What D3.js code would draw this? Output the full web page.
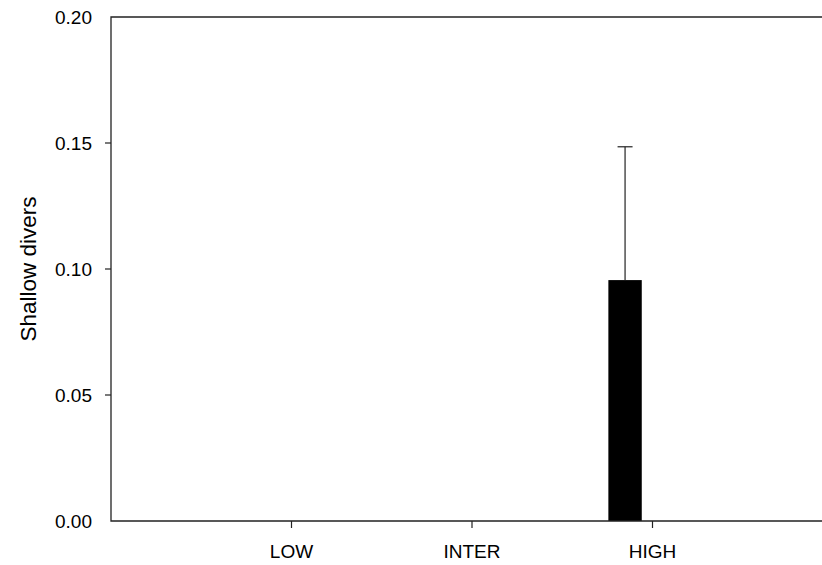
<!DOCTYPE html>
<html>
<head>
<meta charset="utf-8">
<script src="https://cdn.jsdelivr.net/npm/d3@7"></script>
<style>
  html, body { margin: 0; padding: 0; background: #fff; }
  svg { display: block; }
  text { font-family: "Liberation Sans", Arial, sans-serif; fill: #000; }
</style>
</head>
<body>
<svg id="chart" width="822" height="565"></svg>
<script>
// Shallow divers by habitat level
const categories = ["LOW", "INTER", "HIGH"];
const values = [0, 0, 0.0956];
const errors = [0, 0, 0.0529];
const yTicks = [0.05, 0.10, 0.15];
const yLabels = [0.00, 0.05, 0.10, 0.15, 0.20];

const svg = d3.select("#chart");
const plotLeft = 111, plotTop = 17, plotBottom = 521, plotRight = 833;

// categories sit at positions 1..3 on a 0..4 axis
const x = d3.scaleLinear().domain([0, categories.length + 1]).range([plotLeft, plotRight]);
const y = d3.scaleLinear().domain([0, 0.20]).range([plotBottom, plotTop]);

const barOffset = -0.152, barWidth = 0.185;
const stroke = "#222";

// bars
svg.append("g").selectAll("rect")
  .data(values)
  .join("rect")
  .attr("x", (d, i) => x(i + 1 + barOffset - barWidth / 2))
  .attr("width", x(barWidth) - x(0))
  .attr("y", d => y(d))
  .attr("height", d => y(0) - y(d))
  .attr("fill", "#000");

// upper error bars
const eb = svg.append("g").attr("stroke", stroke).attr("stroke-width", 1.2);
values.forEach((v, i) => {
  if (errors[i] <= 0) return;
  const cx = x(i + 1 + barOffset);
  eb.append("line").attr("x1", cx).attr("x2", cx).attr("y1", y(v)).attr("y2", y(v + errors[i]));
  eb.append("line").attr("x1", cx - 7.5).attr("x2", cx + 7.5).attr("y1", y(v + errors[i])).attr("y2", y(v + errors[i]));
});

// frame
const frame = svg.append("g").attr("stroke", stroke).attr("stroke-width", 1.3).attr("fill", "none");
frame.append("path").attr("d", `M${x(4)},${y(0.2)}H${plotLeft}V${plotBottom}H${x(4)}`);

// y axis ticks and labels
svg.append("g").attr("stroke", stroke).attr("stroke-width", 1.2)
  .selectAll("line").data(yTicks).join("line")
  .attr("x1", plotLeft - 6).attr("x2", plotLeft).attr("y1", d => y(d)).attr("y2", d => y(d));
svg.append("g").selectAll("text").data(yLabels).join("text")
  .attr("x", 92).attr("y", d => y(d)).attr("dy", "0.36em")
  .attr("text-anchor", "end").attr("font-size", 19)
  .text(d3.format(".2f"));

// x axis ticks and labels
svg.append("g").attr("stroke", stroke).attr("stroke-width", 1.2)
  .selectAll("line").data(categories).join("line")
  .attr("x1", (d, i) => x(i + 1)).attr("x2", (d, i) => x(i + 1))
  .attr("y1", plotBottom).attr("y2", plotBottom + 7);
svg.append("g").selectAll("text").data(categories).join("text")
  .attr("x", (d, i) => x(i + 1)).attr("y", 558)
  .attr("text-anchor", "middle").attr("font-size", 19)
  .text(d => d);

// y axis title
svg.append("text")
  .attr("transform", `translate(36,${y(0.1)}) rotate(-90)`)
  .attr("text-anchor", "middle").attr("font-size", 22.5)
  .text("Shallow divers");
</script>
</body>
</html>
